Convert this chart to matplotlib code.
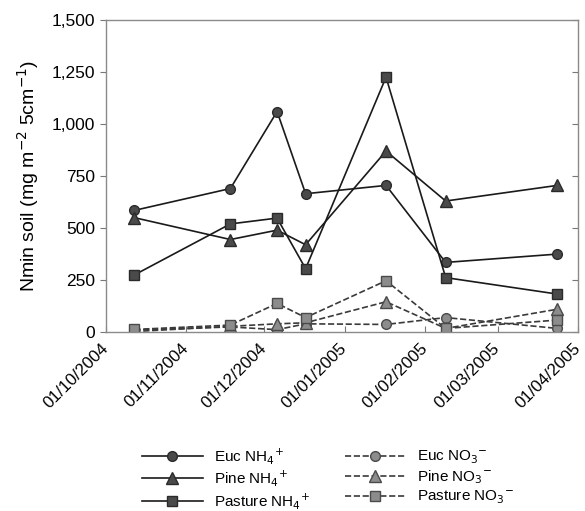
import numpy as np
import pandas as pd
import matplotlib
matplotlib.use("Agg")
import matplotlib.pyplot as plt
import matplotlib.dates as mdates
from matplotlib.ticker import FuncFormatter

plt.rcParams['font.family'] = ['Liberation Sans', 'DejaVu Sans']

# sampling dates
dates = pd.to_datetime(["2004-10-12", "2004-11-18", "2004-12-06", "2004-12-17",
                        "2005-01-17", "2005-02-09", "2005-03-24"])

# ammonium (solid lines)
euc_nh4 = [585, 690, 1060, 665, 705, 335, 375]
pine_nh4 = [550, 445, 490, 420, 870, 630, 705]
pasture_nh4 = [275, 520, 548, 305, 1225, 262, 183]

# nitrate (dashed lines)
euc_no3 = [10, 25, 12, 40, 37, 70, 18]
pine_no3 = [3, 28, 40, 45, 146, 18, 110]
pasture_no3 = [13, 34, 138, 70, 247, 18, 58]

tick_dates = pd.date_range("2004-10-01", "2005-04-01", freq="MS")

fig = plt.figure(figsize=(5.85, 5.11), dpi=100)
ax = fig.add_axes([0.181, 0.350, 0.807, 0.611])

dark = "#4a4a4a"
light = "#8c8c8c"
edge = "#2a2a2a"

ax.plot(dates, euc_nh4, '-', color='#1a1a1a', lw=1.2, marker='o', ms=7,
        mfc=dark, mec=edge, label="Euc NH$_4$$^{+}$")
ax.plot(dates, pine_nh4, '-', color='#1a1a1a', lw=1.2, marker='^', ms=8,
        mfc=dark, mec=edge, label="Pine NH$_4$$^{+}$")
ax.plot(dates, pasture_nh4, '-', color='#1a1a1a', lw=1.2, marker='s', ms=6.5,
        mfc=dark, mec=edge, label="Pasture NH$_4$$^{+}$")
ax.plot(dates, euc_no3, '--', color='#3a3a3a', lw=1.2, marker='o', ms=7,
        mfc=light, mec='#4a4a4a', label="Euc NO$_3$$^{-}$")
ax.plot(dates, pine_no3, '--', color='#3a3a3a', lw=1.2, marker='^', ms=8,
        mfc=light, mec='#4a4a4a', label="Pine NO$_3$$^{-}$")
ax.plot(dates, pasture_no3, '--', color='#3a3a3a', lw=1.2, marker='s', ms=6.5,
        mfc=light, mec='#4a4a4a', label="Pasture NO$_3$$^{-}$")

ax.set_xlim(tick_dates[0], tick_dates[-1])
ax.set_ylim(0, 1500)
ax.set_yticks([0, 250, 500, 750, 1000, 1250, 1500])
ax.yaxis.set_major_formatter(FuncFormatter(lambda v, p: f"{v:,.0f}"))
ax.set_xticks(tick_dates)
ax.xaxis.set_major_formatter(mdates.DateFormatter("%d/%m/%Y"))
plt.setp(ax.get_xticklabels(), rotation=45, ha='right', va='center',
         rotation_mode='anchor')

ax.tick_params(axis='y', which='both', left=True, right=True, direction='out',
               labelsize=12.5, color='#777777', length=4)
ax.tick_params(axis='x', direction='in', labelsize=12.2, color='#777777', length=4,
               pad=10)
for t in ax.yaxis.get_major_ticks():
    t.tick2line.set_marker(matplotlib.lines.TICKLEFT)
for sp in ax.spines.values():
    sp.set_color('#8a8a8a')
    sp.set_linewidth(1.0)

ax.set_ylabel("Nmin soil (mg m$^{-2}$ 5cm$^{-1}$)", fontsize=14, labelpad=8)

fig.legend(loc='upper left', bbox_to_anchor=(0.232, 0.139), ncol=2, frameon=False,
           fontsize=11, handlelength=4.0, columnspacing=2.3, labelspacing=0.15,
           handletextpad=0.7, borderaxespad=0)

fig.savefig("out.png", dpi=100)
